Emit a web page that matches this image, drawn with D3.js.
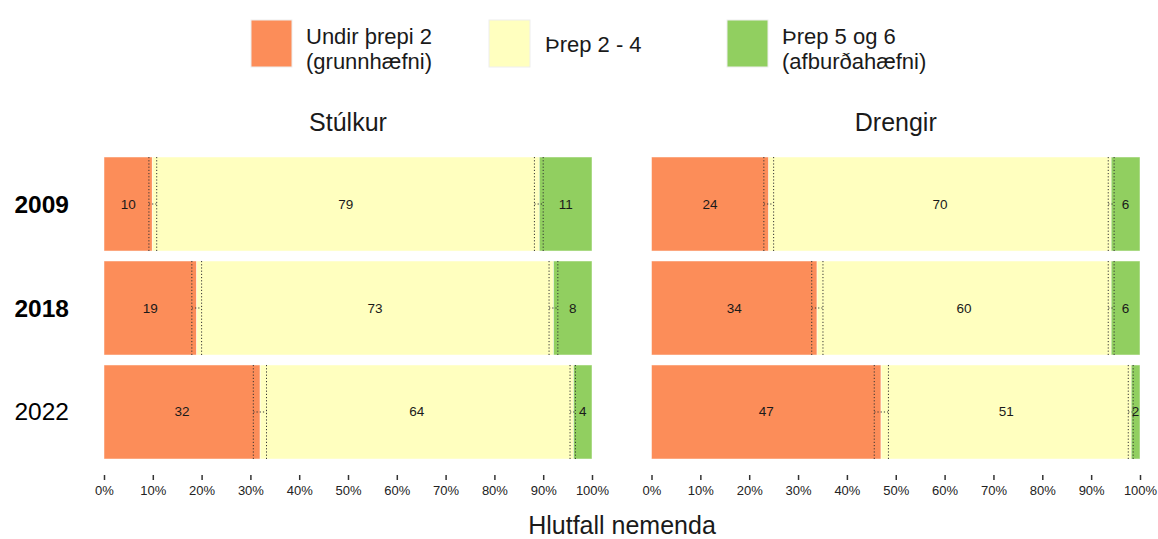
<!DOCTYPE html>
<html><head><meta charset="utf-8">
<script src="https://cdn.jsdelivr.net/npm/d3@7"></script>
<style>body{margin:0;background:#fff}svg{display:block;font-family:"Liberation Sans",Arial,sans-serif}</style>
</head><body><svg id="c" width="1158" height="539"></svg>
<script>
const years = ["2009","2018","2022"];
const boldYears = ["2009","2018"];
const panels = ["Stúlkur","Drengir"];
const levels = ["Undir þrepi 2|(grunnhæfni)","Þrep 2 - 4","Þrep 5 og 6|(afburðahæfni)"];
const colors = ["#FC8D59","#FFFFBF","#91CF60"];
// segment shares (%) per year, per panel
const girls = [[9.9,79.3,10.8],[19.0,73.1,7.9],[32.0,64.2,3.8]];
const boys  = [[24.0,70.1,5.9],[33.9,60.2,5.9],[47.0,51.2,1.8]];
// confidence bounds for the two cumulative boundaries [lo1,hi1,lo2,hi2]
const girlsCI = [[9.2,10.8,88.2,90.0],[18.0,20.0,91.2,93.0],[30.6,33.3,95.5,96.6]];
const boysCI  = [[23.0,25.0,93.5,94.7],[32.8,35.1,93.5,94.7],[45.6,48.5,97.6,98.6]];
const ticks = [0,10,20,30,40,50,60,70,80,90,100];
const xTitle = "Hlutfall nemenda";

const svg = d3.select("#c");
const y = d3.scaleBand().domain(years).range([157,459]).paddingInner(0.096).paddingOuter(0);
const xs = [d3.scaleLinear().domain([0,100]).range([104,592]),
            d3.scaleLinear().domain([0,100]).range([651.5,1140])];
const data = [girls, boys], cis = [girlsCI, boysCI];

panels.forEach((p,pi)=>{
  const x = xs[pi];
  const g = svg.append("g");
  g.append("text").attr("x",(x.range()[0]+x.range()[1])/2).attr("y",131)
    .attr("text-anchor","middle").attr("font-size",25).attr("fill","#1a1a1a").text(p);
  years.forEach((yr,yi)=>{
    const vals = data[pi][yi];
    let cum = 0;
    vals.forEach((v,k)=>{
      const x0 = cum, x1 = cum+v; cum = x1;
      g.append("rect").attr("x",x(x0)).attr("y",y(yr)).attr("width",x(x1)-x(x0)).attr("height",y.bandwidth())
        .attr("fill",colors[k]).attr("stroke","#fff").attr("stroke-opacity",0.6).attr("stroke-width",0.8);
    });
    cum = 0;
    vals.forEach((v,k)=>{
      const x0 = cum, x1 = cum+v; cum = x1;
      g.append("text").attr("x",x((x0+x1)/2)).attr("y",y(yr)+y.bandwidth()/2)
        .attr("text-anchor","middle").attr("dominant-baseline","central")
        .attr("font-size",13.5).attr("fill","#1a1a1a").text(Math.round(v));
    });
    const ci = cis[pi][yi];
    [[ci[0],ci[1]],[ci[2],ci[3]]].forEach(([lo,hi])=>{
      const yt = y(yr), yb = y(yr)+y.bandwidth(), ym = y(yr)+y.bandwidth()/2;
      [lo,hi].forEach(b=>{
        g.append("line").attr("x1",x(b)).attr("x2",x(b)).attr("y1",yt).attr("y2",yb)
          .attr("stroke","#333").attr("stroke-width",1).attr("stroke-dasharray","1.2,2");
      });
      g.append("line").attr("x1",x(lo)).attr("x2",x(hi)).attr("y1",ym).attr("y2",ym)
        .attr("stroke","#333").attr("stroke-width",1).attr("stroke-dasharray","1.2,2");
    });
  });
  const ax = g.append("g").attr("transform","translate(0,475)")
    .call(d3.axisBottom(x).tickValues(ticks).tickFormat(d=>d+"%").tickSize(5).tickPadding(6));
  ax.select(".domain").remove();
  ax.selectAll(".tick line").attr("stroke","#333").attr("stroke-width",1.5);
  ax.selectAll(".tick text").attr("font-size",13).attr("fill","#222").attr("font-family","Liberation Sans, Arial, sans-serif");
});

years.forEach(yr=>{
  svg.append("text").attr("x",69).attr("y",y(yr)+y.bandwidth()/2)
    .attr("text-anchor","end").attr("dominant-baseline","central")
    .attr("font-size",24.5).attr("font-weight",boldYears.includes(yr)?"bold":"normal")
    .attr("fill","#000").text(yr);
});

svg.append("text").attr("x",622).attr("y",534).attr("text-anchor","middle")
  .attr("font-size",25).attr("fill","#1a1a1a").text(xTitle);

const legX = [251,489,727];
levels.forEach((l,i)=>{
  svg.append("rect").attr("x",legX[i]).attr("y",20).attr("width",41).attr("height",47)
    .attr("fill",colors[i]).attr("stroke","#eee").attr("stroke-width",1);
  const lines = l.split("|");
  const t = svg.append("text").attr("x",legX[i]+56).attr("font-size",22).attr("fill","#1a1a1a");
  if(lines.length===1){
    t.attr("y",44).attr("dominant-baseline","central").text(lines[0]);
  } else {
    lines.forEach((s,j)=>t.append("tspan").attr("x",legX[i]+55).attr("y",j===0?36:61)
      .attr("dominant-baseline","central").text(s));
  }
});
</script></body></html>
